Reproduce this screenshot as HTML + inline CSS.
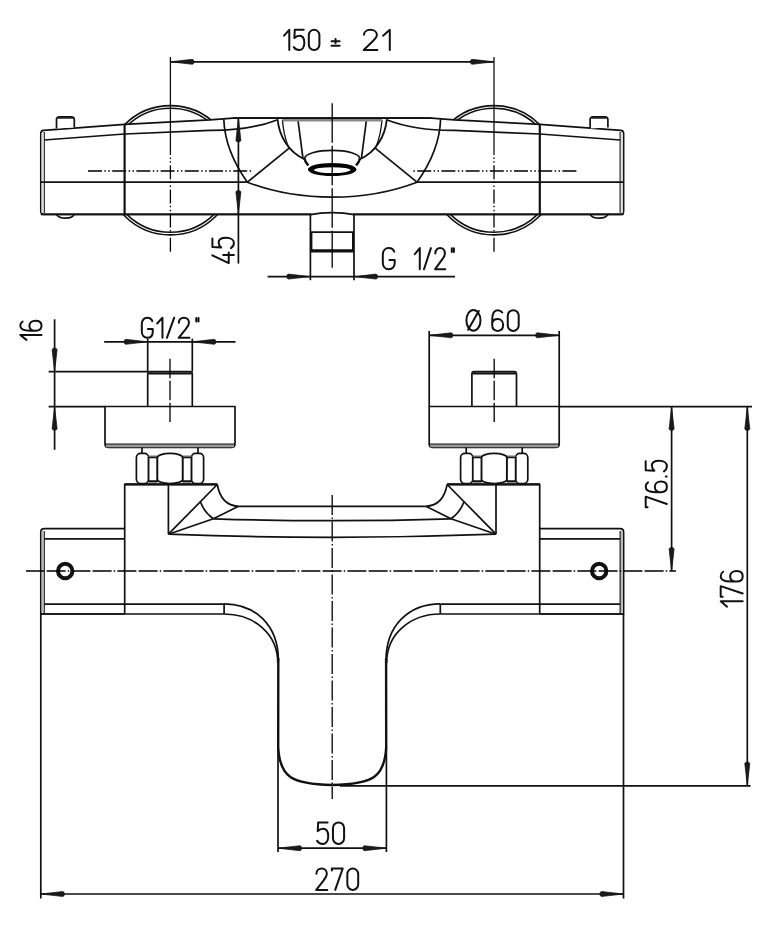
<!DOCTYPE html>
<html><head><meta charset="utf-8"><style>
html,body{margin:0;padding:0;background:#fff;}
svg{display:block;filter:blur(0.4px);}
.t path{vector-effect:non-scaling-stroke;}
text{font-family:"Liberation Sans",sans-serif;}
</style></head><body>
<svg width="777" height="938" viewBox="0 0 777 938" stroke="#111" fill="none" stroke-linecap="butt" stroke-linejoin="round">
<rect x="0" y="0" width="777" height="938" fill="#fff" stroke="none"/>
<circle cx="170.4" cy="170.3" r="64.6" fill="#fff" stroke-width="1.7"/>
<circle cx="170.4" cy="170.3" r="62.0" fill="none" stroke-width="1.53"/>
<circle cx="494.0" cy="170.3" r="64.6" fill="#fff" stroke-width="1.7"/>
<circle cx="494.0" cy="170.3" r="62.0" fill="none" stroke-width="1.53"/>
<path d="M40.8,211 L40.8,133.5 Q40.8,130.5 43.5,130.3 L124.5,124.3 L210,119.9 L233,118.1 L431.4,118.1 L454.4,119.9 L539.9,124.3 L620.9,130.3 Q623.6,130.5 623.6,133.5 L623.6,211 Q623.6,214.4 620.9,214.4 L43.8,214.4 Q40.8,214.4 40.8,211 Z" stroke-width="1.7" fill="#fff" />
<line x1="44.20" y1="132.00" x2="44.20" y2="213.00" stroke-width="1.3" />
<line x1="620.20" y1="132.00" x2="620.20" y2="213.00" stroke-width="1.3" />
<rect x="41.5" y="133" width="2.2" height="80" fill="#ddd" stroke="none"/>
<rect x="620.70" y="133" width="2.2" height="80" fill="#ddd" stroke="none"/>
<path d="M44.2,140 L124.5,134 L210,130.4 Q250,130.6 277.8,119.7" stroke-width="1.7" fill="none" />
<path d="M620.1999999999999,140 L539.9,134 L454.4,130.4 Q414.4,130.6 386.59999999999997,119.7" stroke-width="1.7" fill="none" />
<line x1="41.00" y1="182.20" x2="247.40" y2="182.20" stroke-width="1.7" />
<line x1="417.00" y1="182.20" x2="623.40" y2="182.20" stroke-width="1.7" />
<line x1="124.60" y1="124.30" x2="124.60" y2="214.40" stroke-width="2.2" />
<line x1="539.80" y1="124.30" x2="539.80" y2="214.40" stroke-width="2.2" />
<path d="M56.5,128.5 L56.5,119.5 Q56.5,116.8 59.5,116.8 L71.3,116.8 Q74.3,116.8 74.3,119.5 L74.3,127.5" stroke-width="1.7" fill="#fff" />
<line x1="58.00" y1="118.00" x2="72.80" y2="118.00" stroke-width="1.4" />
<path d="M590.1,128.5 L590.1,119.5 Q590.1,116.8 593.1,116.8 L604.9,116.8 Q607.9,116.8 607.9,119.5 L607.9,127.5" stroke-width="1.7" fill="#fff" />
<line x1="591.60" y1="118.00" x2="606.40" y2="118.00" stroke-width="1.4" />
<path d="M56.5,214.4 Q58.5,218.2 65.5,218.2 Q72.5,218.2 74.3,214.4" stroke-width="1.7" fill="none" />
<path d="M590.1,214.4 Q592.1,218.2 599.1,218.2 Q606.1,218.2 607.9,214.4" stroke-width="1.7" fill="none" />
<path d="M223.8,119.2 C224.5,140 233,162 247.4,182.2 C265,189 295,197 332.2,197.2 C369.4,197 399.4,189 417.0,182.2 C431.4,162 439.9,140 440.59999999999997,119.2" stroke-width="1.7" fill="none" />
<line x1="247.40" y1="182.20" x2="289.20" y2="148.20" stroke-width="1.7" />
<line x1="417.00" y1="182.20" x2="375.20" y2="148.20" stroke-width="1.7" />
<path d="M277.6,119.3 C279,135 288,152 304.8,159.3" stroke-width="1.8" fill="none" />
<path d="M386.79999999999995,119.3 C385.4,135 376.4,152 359.59999999999997,159.3" stroke-width="1.8" fill="none" />
<path d="M282.4,119.8 C283.3,132 285.5,140 288.6,147.6" stroke-width="1.3" fill="none" />
<path d="M382.0,119.8 C381.09999999999997,132 378.9,140 375.79999999999995,147.6" stroke-width="1.3" fill="none" />
<line x1="297.90" y1="119.50" x2="302.90" y2="157.90" stroke-width="1.7" />
<line x1="366.50" y1="119.50" x2="361.50" y2="157.90" stroke-width="1.7" />
<rect x="282.5" y="118.8" width="99.4" height="2.7" fill="#888" stroke="none"/>
<line x1="233.00" y1="118.10" x2="431.40" y2="118.10" stroke-width="1.9" />
<path d="M304.6,158.5 A27.6,8.2 0 0 1 359.8,158.5" stroke-width="1.7" fill="none" />
<path d="M304.6,158.5 L305.5,161.5 L308.3,165.5" stroke-width="2.4" fill="none" />
<path d="M359.79999999999995,158.5 L358.9,161.5 L356.09999999999997,165.5" stroke-width="2.4" fill="none" />
<path d="M307.9,169.5 A24.3,6.6 0 1 0 356.5,169.5 A24.3,6.6 0 1 0 307.9,169.5 Z M313.9,170.1 A18.3,2.9 0 1 1 350.5,170.1 A18.3,2.9 0 1 1 313.9,170.1 Z" fill="#000" fill-rule="evenodd" stroke="none"/>
<line x1="40.80" y1="214.40" x2="623.60" y2="214.40" stroke-width="1.7" />
<rect x="311.3" y="212.6" width="41.8" height="3.6" fill="#fff" stroke="none"/>
<path d="M310.4,214.6 L310.4,280.2" stroke-width="1.7" fill="none" />
<path d="M354.0,214.6 L354.0,280.2" stroke-width="1.7" fill="none" />
<path d="M310.4,214.6 C318,213.2 322,212.8 332.2,212.7 C342.4,212.8 346.4,213.2 354.0,214.6" stroke-width="1.7" fill="none" />
<line x1="310.40" y1="232.10" x2="354.00" y2="232.10" stroke-width="1.7" />
<line x1="310.40" y1="250.90" x2="354.00" y2="250.90" stroke-width="3.2" />
<line x1="311.40" y1="232.10" x2="311.40" y2="251.00" stroke-width="2.0" />
<line x1="353.00" y1="232.10" x2="353.00" y2="251.00" stroke-width="2.0" />
<line x1="88.00" y1="171.00" x2="252.70" y2="171.00" stroke-width="1.3" stroke-dasharray="14 2.4 1.5 2.4 1.5 2.4" stroke="#000"/>
<line x1="576.40" y1="171.00" x2="411.70" y2="171.00" stroke-width="1.3" stroke-dasharray="14 2.4 1.5 2.4 1.5 2.4" stroke="#000"/>
<line x1="170.40" y1="57.00" x2="170.40" y2="155.00" stroke-width="1.3" />
<line x1="170.40" y1="155.00" x2="170.40" y2="253.60" stroke-width="1.3" stroke-dasharray="14 2.4 1.5 2.4 1.5 2.4" stroke="#000" stroke-dashoffset="14"/>
<line x1="494.00" y1="57.00" x2="494.00" y2="155.00" stroke-width="1.3" />
<line x1="494.00" y1="155.00" x2="494.00" y2="253.60" stroke-width="1.3" stroke-dasharray="14 2.4 1.5 2.4 1.5 2.4" stroke="#000" stroke-dashoffset="14"/>
<line x1="332.20" y1="103.30" x2="332.20" y2="267.70" stroke-width="1.3" stroke-dasharray="39.5 3" stroke="#000"/>
<line x1="170.40" y1="61.80" x2="494.00" y2="61.80" stroke-width="1.7" />
<path d="M170.40,61.80 L192.40,59.30 Q194.00,59.55 194.00,61.80 Q194.00,64.05 192.40,64.30 Z" fill="#1a1a1a" stroke-width="0.7"/>
<path d="M494.00,61.80 L472.00,64.30 Q470.40,64.05 470.40,61.80 Q470.40,59.55 472.00,59.30 Z" fill="#1a1a1a" stroke-width="0.7"/>
<g transform="translate(284.00,29.80) scale(2.0345,2.0200)" stroke="#111" stroke-width="2.0" stroke-linecap="round" stroke-linejoin="round" fill="none" class="t"><path transform="translate(0.00,0)" d="M0,2.9 L2.6,0 L2.6,10"/><path transform="translate(4.80,0)" d="M4.9,0 L0.5,0 L0.3,4.1 C1,3.3 1.9,2.9 2.8,2.9 C4.4,2.9 5.2,4.3 5.2,6.4 C5.2,8.6 4.1,10 2.6,10 C1.5,10 0.6,9.5 0,8.6"/><path transform="translate(12.20,0)" d="M0,2.6 A2.6,2.6 0 0 1 5.2,2.6 L5.2,7.4 A2.6,2.6 0 0 1 0,7.4 Z"/></g>
<g transform="translate(331.50,39.00) scale(1.6200,0.8500)" stroke="#111" stroke-width="2.0" stroke-linecap="round" stroke-linejoin="round" fill="none" class="t"><path transform="translate(0.00,0)" d="M2.5,0 L2.5,5 M0,2.5 L5,2.5 M0,8 L5,8"/></g>
<g transform="translate(363.70,29.80) scale(2.5842,2.0200)" stroke="#111" stroke-width="2.0" stroke-linecap="round" stroke-linejoin="round" fill="none" class="t"><path transform="translate(0.00,0)" d="M0.1,2.5 C0.1,1 1.2,0 2.6,0 C4,0 5.1,1 5.1,2.5 C5.1,3.7 4.5,4.5 3.6,5.5 L0,10 L5.3,10"/><path transform="translate(7.50,0)" d="M0,2.9 L2.6,0 L2.6,10"/></g>
<line x1="238.40" y1="118.20" x2="238.40" y2="263.60" stroke-width="1.7" />
<path d="M238.40,118.30 L240.90,140.30 Q240.65,141.90 238.40,141.90 Q236.15,141.90 235.90,140.30 Z" fill="#1a1a1a" stroke-width="0.7"/>
<path d="M238.40,214.10 L235.90,192.10 Q236.15,190.50 238.40,190.50 Q240.65,190.50 240.90,192.10 Z" fill="#1a1a1a" stroke-width="0.7"/>
<g transform="translate(212.40,263.10) rotate(-90) scale(1.9766,2.1500)" stroke="#111" stroke-width="2.0" stroke-linecap="round" stroke-linejoin="round" fill="none" class="t"><path transform="translate(0.00,0)" d="M3.9,0 L0,7.6 L5.4,7.6 M4.1,5.0 L4.1,10"/><path transform="translate(7.60,0)" d="M4.9,0 L0.5,0 L0.3,4.1 C1,3.3 1.9,2.9 2.8,2.9 C4.4,2.9 5.2,4.3 5.2,6.4 C5.2,8.6 4.1,10 2.6,10 C1.5,10 0.6,9.5 0,8.6"/></g>
<line x1="267.60" y1="276.60" x2="455.00" y2="276.60" stroke-width="1.7" />
<path d="M310.40,276.60 L288.40,279.10 Q286.80,278.85 286.80,276.60 Q286.80,274.35 288.40,274.10 Z" fill="#1a1a1a" stroke-width="0.7"/>
<path d="M354.00,276.60 L376.00,274.10 Q377.60,274.35 377.60,276.60 Q377.60,278.85 376.00,279.10 Z" fill="#1a1a1a" stroke-width="0.7"/>
<g transform="translate(382.80,248.10) scale(2.2037,2.1100)" stroke="#111" stroke-width="2.0" stroke-linecap="round" stroke-linejoin="round" fill="none" class="t"><path transform="translate(0.00,0)" d="M5.2,1.7 C4.8,0.6 3.9,0 2.7,0 C1.1,0 0,1.3 0,3.2 L0,6.8 C0,8.7 1.1,10 2.7,10 C4.3,10 5.4,8.9 5.4,7.1 L5.4,5.6 L3,5.6"/></g>
<g transform="translate(414.80,248.10) scale(1.9167,2.1100)" stroke="#111" stroke-width="2.0" stroke-linecap="round" stroke-linejoin="round" fill="none" class="t"><path transform="translate(0.00,0)" d="M0,2.9 L2.6,0 L2.6,10"/><path transform="translate(4.80,0)" d="M0,10 L3.6,0"/><path transform="translate(10.60,0)" d="M0.1,2.5 C0.1,1 1.2,0 2.6,0 C4,0 5.1,1 5.1,2.5 C5.1,3.7 4.5,4.5 3.6,5.5 L0,10 L5.3,10"/><path transform="translate(18.10,0)" d="M1.2,0.1 L1.2,1.9 M2.3,0.1 L2.3,1.9"/></g>
<path d="M147.7,406.5 L147.7,374 Q147.7,371.5 150.2,371.5 L189.8,371.5 Q192.3,371.5 192.3,374 L192.3,406.5" stroke-width="1.7" fill="#fff" />
<line x1="148.50" y1="373.30" x2="191.50" y2="373.30" stroke-width="2.2" />
<path d="M105.0,406.5 L235.0,406.5 L235.0,444 Q235.0,447.4 231.5,447.4 L108.5,447.4 Q105.0,447.4 105.0,444 Z" stroke-width="1.7" fill="#fff" />
<rect x="106.0" y="444" width="128" height="3.3" fill="#999" stroke="none"/>
<line x1="105.00" y1="444.00" x2="235.00" y2="444.00" stroke-width="1.2" />
<line x1="142.00" y1="447.40" x2="142.00" y2="453.50" stroke-width="1.7" />
<line x1="198.00" y1="447.40" x2="198.00" y2="453.50" stroke-width="1.7" />
<rect x="136.40" y="453.3" width="12.20" height="30.2" rx="4.2" ry="4.2" fill="#fff" stroke-width="1.7"/>
<rect x="148.60" y="455.4" width="8.80" height="2.2" fill="#888" stroke="none"/>
<rect x="148.60" y="481.1" width="8.80" height="2.2" fill="#888" stroke="none"/>
<rect x="148.60" y="457.5" width="8.80" height="23.6" fill="#fff" stroke-width="1.7"/>
<rect x="191.40" y="453.3" width="12.20" height="30.2" rx="4.2" ry="4.2" fill="#fff" stroke-width="1.7"/>
<rect x="182.60" y="455.4" width="8.80" height="2.2" fill="#888" stroke="none"/>
<rect x="182.60" y="481.1" width="8.80" height="2.2" fill="#888" stroke="none"/>
<rect x="182.60" y="457.5" width="8.80" height="23.6" fill="#fff" stroke-width="1.7"/>
<path d="M157.4,457.5 A12.6,4.1 0 0 1 182.6,457.5 L182.6,479.4 A12.6,4.1 0 0 1 157.4,479.4 Z" stroke-width="1.7" fill="#fff" />
<line x1="170.00" y1="358.70" x2="170.00" y2="422.00" stroke-width="1.3" stroke-dasharray="19.5 2.5" stroke="#000"/>
<path d="M471.9,406.5 L471.9,374 Q471.9,371.5 474.4,371.5 L514.0,371.5 Q516.5,371.5 516.5,374 L516.5,406.5" stroke-width="1.7" fill="#fff" />
<line x1="472.70" y1="373.30" x2="515.70" y2="373.30" stroke-width="2.2" />
<path d="M429.2,406.5 L559.2,406.5 L559.2,444 Q559.2,447.4 555.7,447.4 L432.7,447.4 Q429.2,447.4 429.2,444 Z" stroke-width="1.7" fill="#fff" />
<rect x="430.2" y="444" width="128" height="3.3" fill="#999" stroke="none"/>
<line x1="429.20" y1="444.00" x2="559.20" y2="444.00" stroke-width="1.2" />
<line x1="466.20" y1="447.40" x2="466.20" y2="453.50" stroke-width="1.7" />
<line x1="522.20" y1="447.40" x2="522.20" y2="453.50" stroke-width="1.7" />
<rect x="460.60" y="453.3" width="12.20" height="30.2" rx="4.2" ry="4.2" fill="#fff" stroke-width="1.7"/>
<rect x="472.80" y="455.4" width="8.80" height="2.2" fill="#888" stroke="none"/>
<rect x="472.80" y="481.1" width="8.80" height="2.2" fill="#888" stroke="none"/>
<rect x="472.80" y="457.5" width="8.80" height="23.6" fill="#fff" stroke-width="1.7"/>
<rect x="515.60" y="453.3" width="12.20" height="30.2" rx="4.2" ry="4.2" fill="#fff" stroke-width="1.7"/>
<rect x="506.80" y="455.4" width="8.80" height="2.2" fill="#888" stroke="none"/>
<rect x="506.80" y="481.1" width="8.80" height="2.2" fill="#888" stroke="none"/>
<rect x="506.80" y="457.5" width="8.80" height="23.6" fill="#fff" stroke-width="1.7"/>
<path d="M481.59999999999997,457.5 A12.6,4.1 0 0 1 506.8,457.5 L506.8,479.4 A12.6,4.1 0 0 1 481.59999999999997,479.4 Z" stroke-width="1.7" fill="#fff" />
<line x1="494.20" y1="358.70" x2="494.20" y2="422.00" stroke-width="1.3" stroke-dasharray="19.5 2.5" stroke="#000"/>
<path d="M124.7,614 L124.7,484.3 L217.3,484.3" stroke-width="1.7" fill="none" />
<path d="M539.6999999999999,614 L539.6999999999999,484.3 L447.09999999999997,484.3" stroke-width="1.7" fill="none" />
<line x1="124.70" y1="484.30" x2="217.30" y2="484.30" stroke-width="2.2" />
<line x1="539.70" y1="484.30" x2="447.10" y2="484.30" stroke-width="2.2" />
<path d="M124.7,528.6 L44.5,528.6 Q40.8,528.6 40.8,532 L40.8,614 L124.7,614" stroke-width="1.7" fill="none" />
<line x1="44.20" y1="531.00" x2="44.20" y2="614.00" stroke-width="1.3" />
<line x1="44.20" y1="538.80" x2="124.70" y2="538.80" stroke-width="1.7" />
<rect x="41.60" y="531" width="2" height="81" fill="#bbb" stroke="none"/>
<line x1="44.20" y1="604.20" x2="224.10" y2="604.20" stroke-width="1.7" />
<line x1="224.10" y1="604.20" x2="224.10" y2="614.00" stroke-width="1.7" />
<line x1="40.80" y1="614.00" x2="224.10" y2="614.00" stroke-width="1.7" />
<circle cx="65.2" cy="571" r="7.2" fill="none" stroke-width="4.0"/>
<path d="M539.6999999999999,528.6 L619.9,528.6 Q623.6,528.6 623.6,532 L623.6,614 L539.6999999999999,614" stroke-width="1.7" fill="none" />
<line x1="620.20" y1="531.00" x2="620.20" y2="614.00" stroke-width="1.3" />
<line x1="620.20" y1="538.80" x2="539.70" y2="538.80" stroke-width="1.7" />
<rect x="620.80" y="531" width="2" height="81" fill="#bbb" stroke="none"/>
<line x1="620.20" y1="604.20" x2="440.30" y2="604.20" stroke-width="1.7" />
<line x1="440.30" y1="604.20" x2="440.30" y2="614.00" stroke-width="1.7" />
<line x1="623.60" y1="614.00" x2="440.30" y2="614.00" stroke-width="1.7" />
<circle cx="599.1999999999999" cy="571" r="7.2" fill="none" stroke-width="4.0"/>
<line x1="168.40" y1="484.30" x2="168.40" y2="534.20" stroke-width="1.7" />
<line x1="168.40" y1="534.20" x2="217.30" y2="484.50" stroke-width="1.7" />
<path d="M217.3,484.5 Q221,505.5 238.5,506.3" stroke-width="1.7" fill="none" />
<path d="M200.5,502 Q204,512 213.4,518.8" stroke-width="1.7" fill="none" />
<line x1="213.40" y1="518.80" x2="238.50" y2="506.30" stroke-width="1.7" />
<line x1="168.40" y1="534.20" x2="213.40" y2="518.80" stroke-width="1.7" />
<line x1="496.00" y1="484.30" x2="496.00" y2="534.20" stroke-width="1.7" />
<line x1="496.00" y1="534.20" x2="447.10" y2="484.50" stroke-width="1.7" />
<path d="M447.09999999999997,484.5 Q443.4,505.5 425.9,506.3" stroke-width="1.7" fill="none" />
<path d="M463.9,502 Q460.4,512 451.0,518.8" stroke-width="1.7" fill="none" />
<line x1="451.00" y1="518.80" x2="425.90" y2="506.30" stroke-width="1.7" />
<line x1="496.00" y1="534.20" x2="451.00" y2="518.80" stroke-width="1.7" />
<line x1="238.50" y1="506.30" x2="425.90" y2="506.30" stroke-width="1.7" />
<path d="M213.4,518.8 Q332.2,522.5 451.0,518.8" stroke-width="1.7" fill="none" />
<path d="M168.4,534.2 Q332.2,540.5 496.0,534.2" stroke-width="1.7" fill="none" />
<path d="M224.1,603.8 C255,603.8 278.6,625 278.4,661" stroke-width="1.7" fill="none" />
<path d="M224.1,614 C254,614 277.8,634 277.8,663" stroke-width="1.7" fill="none" />
<path d="M278.3,658 L278.2,747 C279.8,778 292,784 332.2,785" stroke-width="2.4" fill="none" />
<path d="M440.29999999999995,603.8 C409.4,603.8 385.79999999999995,625 386.0,661" stroke-width="1.7" fill="none" />
<path d="M440.29999999999995,614 C410.4,614 386.59999999999997,634 386.59999999999997,663" stroke-width="1.7" fill="none" />
<path d="M386.09999999999997,658 L386.2,747 C384.59999999999997,778 372.4,784 332.2,785" stroke-width="2.4" fill="none" />
<line x1="26.00" y1="571.00" x2="676.00" y2="571.00" stroke-width="1.4" stroke-dasharray="1.5 2.2 19 2.2 19 2.1" stroke-dashoffset="4.3" stroke="#000"/>
<line x1="332.20" y1="494.90" x2="332.20" y2="799.00" stroke-width="1.3" stroke-dasharray="20 2.5 1.5 2.5" stroke="#000"/>
<line x1="54.60" y1="319.30" x2="54.60" y2="449.80" stroke-width="1.7" />
<path d="M54.60,371.70 L52.10,349.70 Q52.35,348.10 54.60,348.10 Q56.85,348.10 57.10,349.70 Z" fill="#1a1a1a" stroke-width="0.7"/>
<path d="M54.60,406.60 L57.10,428.60 Q56.85,430.20 54.60,430.20 Q52.35,430.20 52.10,428.60 Z" fill="#1a1a1a" stroke-width="0.7"/>
<line x1="48.60" y1="371.70" x2="147.70" y2="371.70" stroke-width="1.7" />
<line x1="48.60" y1="406.60" x2="105.00" y2="406.60" stroke-width="1.7" />
<g transform="translate(20.30,339.90) rotate(-90) scale(1.9200,2.1200)" stroke="#111" stroke-width="2.0" stroke-linecap="round" stroke-linejoin="round" fill="none" class="t"><path transform="translate(0.00,0)" d="M0,2.9 L2.6,0 L2.6,10"/><path transform="translate(4.80,0)" d="M4.8,1.1 C4.3,0.4 3.5,0 2.6,0 C0.9,0 0,1.8 0,4.6 L0,7.2 C0,9 1.1,10 2.6,10 C4.1,10 5.2,9 5.2,7.2 C5.2,5.4 4.1,4.3 2.6,4.3 C1.2,4.3 0.2,5.2 0,6.4"/></g>
<line x1="104.20" y1="341.80" x2="235.50" y2="341.80" stroke-width="1.7" />
<line x1="147.70" y1="338.60" x2="147.70" y2="371.70" stroke-width="1.7" />
<line x1="192.30" y1="338.60" x2="192.30" y2="371.70" stroke-width="1.7" />
<path d="M147.70,341.80 L125.70,344.30 Q124.10,344.05 124.10,341.80 Q124.10,339.55 125.70,339.30 Z" fill="#1a1a1a" stroke-width="0.7"/>
<path d="M192.30,341.80 L214.30,339.30 Q215.90,339.55 215.90,341.80 Q215.90,344.05 214.30,344.30 Z" fill="#1a1a1a" stroke-width="0.7"/>
<g transform="translate(141.80,317.70) scale(2.0250,2.0100)" stroke="#111" stroke-width="2.0" stroke-linecap="round" stroke-linejoin="round" fill="none" class="t"><path transform="translate(0.00,0)" d="M5.2,1.7 C4.8,0.6 3.9,0 2.7,0 C1.1,0 0,1.3 0,3.2 L0,6.8 C0,8.7 1.1,10 2.7,10 C4.3,10 5.4,8.9 5.4,7.1 L5.4,5.6 L3,5.6"/><path transform="translate(7.60,0)" d="M0,2.9 L2.6,0 L2.6,10"/><path transform="translate(12.40,0)" d="M0,10 L3.6,0"/><path transform="translate(18.20,0)" d="M0.1,2.5 C0.1,1 1.2,0 2.6,0 C4,0 5.1,1 5.1,2.5 C5.1,3.7 4.5,4.5 3.6,5.5 L0,10 L5.3,10"/><path transform="translate(25.70,0)" d="M1.2,0.1 L1.2,1.9 M2.3,0.1 L2.3,1.9"/></g>
<line x1="429.20" y1="335.30" x2="559.20" y2="335.30" stroke-width="1.7" />
<line x1="429.20" y1="330.90" x2="429.20" y2="406.50" stroke-width="1.7" />
<line x1="559.20" y1="330.90" x2="559.20" y2="406.50" stroke-width="1.7" />
<path d="M429.20,335.30 L451.20,332.80 Q452.80,333.05 452.80,335.30 Q452.80,337.55 451.20,337.80 Z" fill="#1a1a1a" stroke-width="0.7"/>
<path d="M559.20,335.30 L537.20,337.80 Q535.60,337.55 535.60,335.30 Q535.60,333.05 537.20,332.80 Z" fill="#1a1a1a" stroke-width="0.7"/>
<g transform="translate(466.40,309.90) scale(2.1364,2.0800)" stroke="#111" stroke-width="2.0" stroke-linecap="round" stroke-linejoin="round" fill="none" class="t"><path transform="translate(0.00,0)" d="M0,5 A3.3,5 0 1 1 6.6,5 A3.3,5 0 1 1 0,5 Z M0.8,9.5 L5.8,0.5"/></g>
<g transform="translate(492.20,310.20) scale(2.1032,2.0700)" stroke="#111" stroke-width="2.0" stroke-linecap="round" stroke-linejoin="round" fill="none" class="t"><path transform="translate(0.00,0)" d="M4.8,1.1 C4.3,0.4 3.5,0 2.6,0 C0.9,0 0,1.8 0,4.6 L0,7.2 C0,9 1.1,10 2.6,10 C4.1,10 5.2,9 5.2,7.2 C5.2,5.4 4.1,4.3 2.6,4.3 C1.2,4.3 0.2,5.2 0,6.4"/><path transform="translate(7.40,0)" d="M0,2.6 A2.6,2.6 0 0 1 5.2,2.6 L5.2,7.4 A2.6,2.6 0 0 1 0,7.4 Z"/></g>
<line x1="559.20" y1="406.60" x2="752.00" y2="406.60" stroke-width="1.7" />
<line x1="671.60" y1="406.60" x2="671.60" y2="571.00" stroke-width="1.7" />
<path d="M671.60,406.80 L674.10,428.80 Q673.85,430.40 671.60,430.40 Q669.35,430.40 669.10,428.80 Z" fill="#1a1a1a" stroke-width="0.7"/>
<path d="M671.60,571.00 L669.10,549.00 Q669.35,547.40 671.60,547.40 Q673.85,547.40 674.10,549.00 Z" fill="#1a1a1a" stroke-width="0.7"/>
<g transform="translate(645.70,507.30) rotate(-90) scale(2.0439,2.1200)" stroke="#111" stroke-width="2.0" stroke-linecap="round" stroke-linejoin="round" fill="none" class="t"><path transform="translate(0.00,0)" d="M0,0.9 L0,0 L5.2,0 L1.6,10"/><path transform="translate(7.40,0)" d="M4.8,1.1 C4.3,0.4 3.5,0 2.6,0 C0.9,0 0,1.8 0,4.6 L0,7.2 C0,9 1.1,10 2.6,10 C4.1,10 5.2,9 5.2,7.2 C5.2,5.4 4.1,4.3 2.6,4.3 C1.2,4.3 0.2,5.2 0,6.4"/><path transform="translate(14.80,0)" d="M0.3,9.5 L0.3,9.9"/><path transform="translate(17.60,0)" d="M4.9,0 L0.5,0 L0.3,4.1 C1,3.3 1.9,2.9 2.8,2.9 C4.4,2.9 5.2,4.3 5.2,6.4 C5.2,8.6 4.1,10 2.6,10 C1.5,10 0.6,9.5 0,8.6"/></g>
<line x1="747.30" y1="406.60" x2="747.30" y2="785.80" stroke-width="1.7" />
<path d="M747.30,406.80 L749.80,428.80 Q749.55,430.40 747.30,430.40 Q745.05,430.40 744.80,428.80 Z" fill="#1a1a1a" stroke-width="0.7"/>
<path d="M747.30,785.60 L744.80,763.60 Q745.05,762.00 747.30,762.00 Q749.55,762.00 749.80,763.60 Z" fill="#1a1a1a" stroke-width="0.7"/>
<line x1="340.00" y1="785.80" x2="750.50" y2="785.80" stroke-width="1.7" />
<g transform="translate(720.70,606.70) rotate(-90) scale(2.0575,2.2000)" stroke="#111" stroke-width="2.0" stroke-linecap="round" stroke-linejoin="round" fill="none" class="t"><path transform="translate(0.00,0)" d="M0,2.9 L2.6,0 L2.6,10"/><path transform="translate(4.80,0)" d="M0,0.9 L0,0 L5.2,0 L1.6,10"/><path transform="translate(12.20,0)" d="M4.8,1.1 C4.3,0.4 3.5,0 2.6,0 C0.9,0 0,1.8 0,4.6 L0,7.2 C0,9 1.1,10 2.6,10 C4.1,10 5.2,9 5.2,7.2 C5.2,5.4 4.1,4.3 2.6,4.3 C1.2,4.3 0.2,5.2 0,6.4"/></g>
<line x1="278.00" y1="747.00" x2="278.00" y2="852.00" stroke-width="1.7" />
<line x1="386.40" y1="747.00" x2="386.40" y2="852.00" stroke-width="1.7" />
<line x1="278.00" y1="848.20" x2="386.40" y2="848.20" stroke-width="1.7" />
<path d="M278.00,848.20 L300.00,845.70 Q301.60,845.95 301.60,848.20 Q301.60,850.45 300.00,850.70 Z" fill="#1a1a1a" stroke-width="0.7"/>
<path d="M386.40,848.20 L364.40,850.70 Q362.80,850.45 362.80,848.20 Q362.80,845.95 364.40,845.70 Z" fill="#1a1a1a" stroke-width="0.7"/>
<g transform="translate(317.10,822.40) scale(2.1429,2.1500)" stroke="#111" stroke-width="2.0" stroke-linecap="round" stroke-linejoin="round" fill="none" class="t"><path transform="translate(0.00,0)" d="M4.9,0 L0.5,0 L0.3,4.1 C1,3.3 1.9,2.9 2.8,2.9 C4.4,2.9 5.2,4.3 5.2,6.4 C5.2,8.6 4.1,10 2.6,10 C1.5,10 0.6,9.5 0,8.6"/><path transform="translate(7.40,0)" d="M0,2.6 A2.6,2.6 0 0 1 5.2,2.6 L5.2,7.4 A2.6,2.6 0 0 1 0,7.4 Z"/></g>
<line x1="40.80" y1="614.00" x2="40.80" y2="898.50" stroke-width="1.7" />
<line x1="623.50" y1="614.00" x2="623.50" y2="898.50" stroke-width="1.7" />
<line x1="40.80" y1="894.00" x2="623.50" y2="894.00" stroke-width="1.7" />
<path d="M40.80,894.00 L62.80,891.50 Q64.40,891.75 64.40,894.00 Q64.40,896.25 62.80,896.50 Z" fill="#1a1a1a" stroke-width="0.7"/>
<path d="M623.50,894.00 L601.50,896.50 Q599.90,896.25 599.90,894.00 Q599.90,891.75 601.50,891.50 Z" fill="#1a1a1a" stroke-width="0.7"/>
<g transform="translate(316.20,868.50) scale(2.0896,2.1400)" stroke="#111" stroke-width="2.0" stroke-linecap="round" stroke-linejoin="round" fill="none" class="t"><path transform="translate(0.00,0)" d="M0.1,2.5 C0.1,1 1.2,0 2.6,0 C4,0 5.1,1 5.1,2.5 C5.1,3.7 4.5,4.5 3.6,5.5 L0,10 L5.3,10"/><path transform="translate(7.50,0)" d="M0,0.9 L0,0 L5.2,0 L1.6,10"/><path transform="translate(14.90,0)" d="M0,2.6 A2.6,2.6 0 0 1 5.2,2.6 L5.2,7.4 A2.6,2.6 0 0 1 0,7.4 Z"/></g>
</svg>
</body></html>
